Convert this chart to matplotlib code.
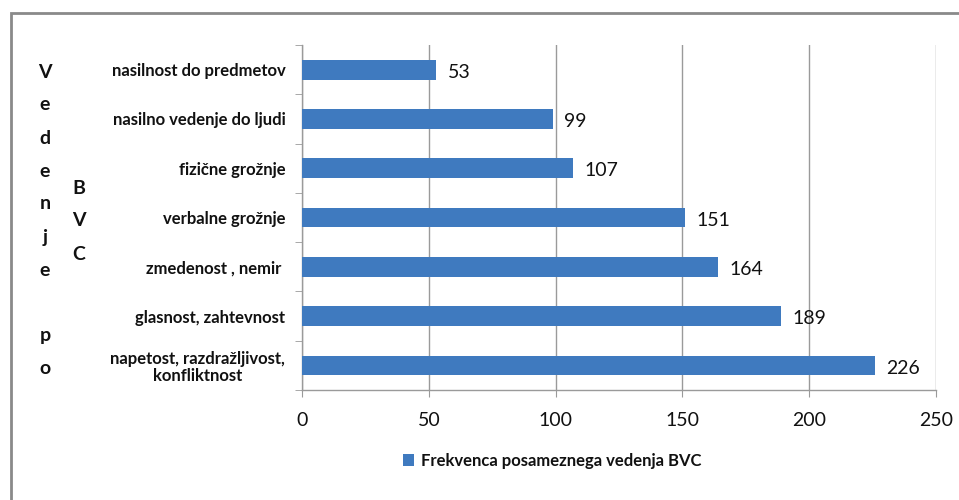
import matplotlib.pyplot as plt
from matplotlib.patches import Rectangle, Patch

plt.rcParams['font.family'] = ['Lato', 'DejaVu Sans']

# categories listed bottom to top
categories = ['napetost, razdražljivost,\nkonfliktnost', 'glasnost, zahtevnost',
              'zmedenost , nemir ', 'verbalne grožnje', 'fizične grožnje',
              'nasilno vedenje do ljudi', 'nasilnost do predmetov']
counts = [226, 189, 164, 151, 107, 99, 53]
xticks = [0, 50, 100, 150, 200, 250]
series_name = 'Frekvenca posameznega vedenja BVC'

bar_color = '#3f7abf'
grid_color = '#9a9a9a'
text_color = '#111111'

fig = plt.figure(figsize=(9.59, 5.0), dpi=100)
ax = fig.add_axes([302 / 959, 1 - 390 / 500, 634 / 959, 345 / 500])

ypos = list(range(len(categories)))
ax.barh(ypos, counts, height=0.4, color=bar_color, zorder=3)
for y, v in zip(ypos, counts):
    ax.annotate(str(v), (v, y), xytext=(8, -2), textcoords='offset points',
                ha='left', va='center', fontsize=14, color=text_color)

ax.set_xlim(0, 250)
ax.set_ylim(-0.5, len(categories) - 0.5)
ax.set_xticks(xticks)
ax.set_xticklabels([str(t) for t in xticks], fontsize=14, color=text_color)
ax.tick_params(axis='x', length=5, color=grid_color, pad=11)

# category labels between boundary ticks
ax.set_yticks(ypos)
ax.set_yticklabels(categories, fontsize=12, fontweight='bold', color=text_color,
                   linespacing=1.1, multialignment='center')
ax.tick_params(axis='y', length=0, pad=12)
ax.set_yticks([i - 0.5 for i in range(len(categories) + 1)], minor=True)
ax.tick_params(axis='y', which='minor', length=5, color=grid_color)

ax.grid(axis='x', color=grid_color, lw=1, zorder=0)
for s in ['top', 'right']:
    ax.spines[s].set_visible(False)
for s in ['left', 'bottom']:
    ax.spines[s].set_color(grid_color)
    ax.spines[s].set_linewidth(1)

# stacked axis title letters
for i, ch in enumerate('Vedenje po'):
    fig.text(45 / 959, 1 - (72 + 33 * i) / 500, ch, ha='center', va='center',
             fontsize=14, fontweight='bold', color=text_color)
for i, ch in enumerate('BVC'):
    fig.text(79 / 959, 1 - (188 + 33 * i) / 500, ch, ha='center', va='center',
             fontsize=14, fontweight='bold', color=text_color)

handle = Patch(facecolor=bar_color, edgecolor='none')
fig.legend([handle], [series_name], loc='center', bbox_to_anchor=(552 / 959, 1 - 461 / 500),
           frameon=False, handlelength=0.7, handleheight=0.7, handletextpad=0.4,
           prop={'size': 12, 'weight': 'bold'}, labelcolor=text_color)

# chart border
fig.patches.append(Rectangle((11 / 959, -0.1), 1.2, 1 - 13 / 500 + 0.1, transform=fig.transFigure,
                             fill=False, edgecolor='#8a8a8a', lw=2, clip_on=False))

fig.savefig('out.png', dpi=100, facecolor='white')
